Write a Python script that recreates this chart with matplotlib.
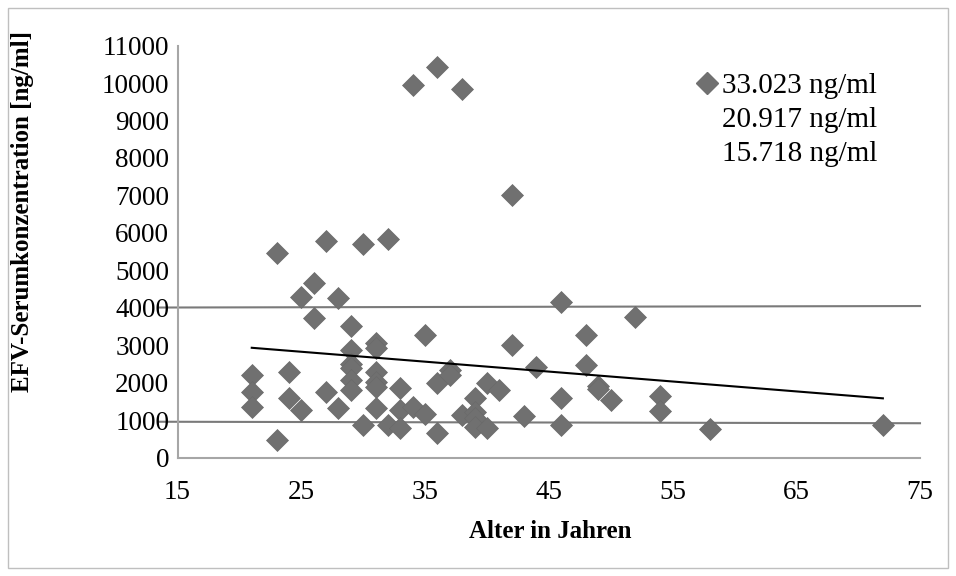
import numpy as np
import matplotlib
matplotlib.use("Agg")
import matplotlib.pyplot as plt
from matplotlib.patches import Rectangle

plt.rcParams['font.family'] = ['Liberation Serif', 'DejaVu Serif']

# Data (age in years, EFV serum concentration in ng/ml)
alter = [21, 21, 21, 23, 23, 24, 24, 25, 25, 26, 26, 27, 27, 28, 28,
         29, 29, 29, 29, 29, 29, 30, 30, 31, 31, 31, 31, 31, 31, 32, 32,
         33, 33, 33, 34, 34, 35, 35, 36, 36, 36, 37, 37, 38, 38,
         39, 39, 39, 39, 40, 40, 41, 42, 42, 43, 44, 46, 46, 46,
         48, 48, 49, 49, 50, 52, 54, 54, 58, 72]
efv = [2200, 1760, 1360, 5470, 470, 2290, 1580, 4280, 1270, 4660, 3730, 5780, 1760, 4260, 1310,
       3510, 2870, 2510, 2380, 2070, 1800, 5710, 870, 3050, 2920, 2290, 2020, 1890, 1310, 5840, 870,
       1850, 1270, 780, 9940, 1360, 3270, 1150, 10420, 1980, 650, 2340, 2200, 9830, 1130,
       1580, 1220, 1050, 820, 1980, 800, 1800, 7000, 3000, 1120, 2410, 4160, 1580, 870,
       3270, 2470, 1920, 1830, 1540, 3760, 1640, 1230, 750, 880]

# linear trend line as shown in the chart (end points)
trend_x = [21, 72]
trend_y = [2930, 1580]

# reference range lines (drawn by hand in the original)
ref_x = [13.5, 75]
ref_upper = [4005, 4045]
ref_lower = [955, 915]

legend_lines = ["33.023 ng/ml", "20.917 ng/ml", "15.718 ng/ml"]

x_ticks = [15, 25, 35, 45, 55, 65, 75]
y_ticks = list(range(0, 11001, 1000))

fig = plt.figure(figsize=(9.56, 5.76), dpi=100)
ax = fig.add_axes([177.5 / 956, 1 - 457.5 / 576, 742.5 / 956, 411.9 / 576])

ax.set_xlim(15, 75)
ax.set_ylim(0, 11000)

# reference lines
ax.plot(ref_x, ref_upper, color='#7a7a7a', lw=1.5, clip_on=False, zorder=1)
ax.plot(ref_x, ref_lower, color='#7a7a7a', lw=1.5, clip_on=False, zorder=1)

# scatter points
ax.plot(alter, efv, 'D', color='#707070', ms=11, mec='#6a6a6a', mew=0.5, zorder=3)

# trend line
ax.plot(trend_x, trend_y, color='black', lw=1.5, zorder=4)

ax.set_xticks(x_ticks)
ax.set_yticks(y_ticks)
ax.tick_params(axis='both', length=0, labelsize=19.5)
ax.tick_params(axis='x', pad=16)
ax.tick_params(axis='y', pad=6)

for s in ['top', 'right']:
    ax.spines[s].set_visible(False)
for s in ['left', 'bottom']:
    ax.spines[s].set_color('#a6a6a6')
    ax.spines[s].set_linewidth(1.5)

# axis titles
fig.text(23 / 956, 1 - 212 / 576, "EFV-Serumkonzentration [ng/ml]", rotation=90,
         ha='center', va='center', fontsize=18, fontweight='bold')
fig.text(550 / 956, 1 - 531 / 576, "Alter in Jahren", ha='center', va='center',
         fontsize=18, fontweight='bold')

# legend
fig.lines.append(plt.Line2D([707 / 956], [1 - 83 / 576], marker='D', color='#707070',
                            ms=11, transform=fig.transFigure, figure=fig))
for i, txt in enumerate(legend_lines):
    fig.text(722 / 956, 1 - (86 + 34 * i) / 576, txt, ha='left', va='center', fontsize=21)

# outer chart border
fig.patches.append(Rectangle((8 / 956, 8 / 576), 940 / 956, 560 / 576, transform=fig.transFigure,
                             fill=False, edgecolor='#bfbfbf', lw=1, figure=fig))

fig.savefig("out.png", dpi=100)
